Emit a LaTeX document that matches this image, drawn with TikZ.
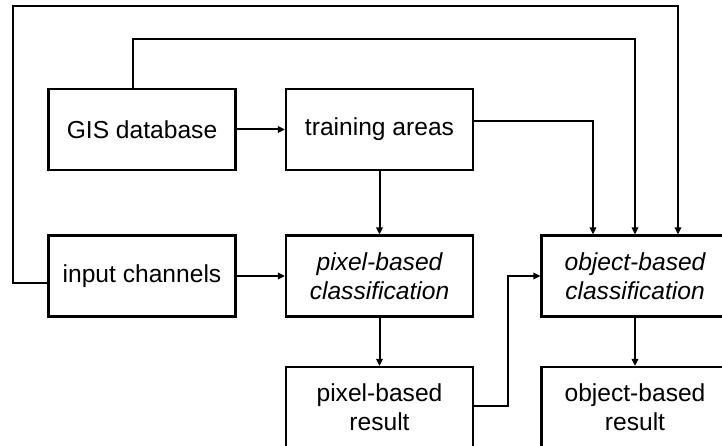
\documentclass[tikz,border=0pt]{standalone}
\usepackage{fontspec}
\setmainfont{Liberation Sans}
\usetikzlibrary{arrows.meta}
\begin{document}
\begin{tikzpicture}[x=1pt,y=-1pt,
  box/.style={draw,line width=2.2pt,minimum width=187pt,minimum height=81pt,inner sep=0pt,align=center,
    font=\fontsize{24.6}{29}\selectfont},
  arr/.style={line width=2pt,-{Triangle[length=7pt,width=6.5pt]}}]
\useasboundingbox (0,0) rectangle (722,446);
\fill[white] (0,0) rectangle (722,446);
\clip (0,0) rectangle (722,446);
\node[box] (gis) at (142,129.5) {GIS database};
\node[box] (train) at (379.5,129.5) {training areas};
\node[box] (input) at (142,276) {input channels};
\node[box] (pix) at (379.5,276) {\itshape pixel-based\\\itshape classification};
\node[box] (obj) at (635,276) {\itshape object-based\\\itshape classification};
\node[box] (pres) at (379.5,407.5) {pixel-based\\result};
\node[box] (ores) at (635,407.5) {object-based\\result};
\coordinate (top1) at (0,6);
\coordinate (top2) at (0,39);
\coordinate (leftx) at (13,0);
\draw[arr] (gis) -- (train);
\draw[arr] (input) -- (pix);
\draw[arr] (train) -- (pix);
\draw[arr] (pix) -- (pres);
\draw[arr] (obj) -- (ores);
\draw[arr] ([yshift=8pt]train.east) -| ([xshift=-42pt]obj.north);
\draw[arr] ([xshift=-9pt]gis.north) |- (top2 -| obj.north) -- (obj.north);
\draw[arr] ([yshift=-7pt]input.west) -| (leftx |- top1) -| ([xshift=43pt]obj.north);
\draw[arr] ([yshift=1.5pt]pres.east) -- ++(34,0) |- (obj.west);
\end{tikzpicture}
\end{document}
